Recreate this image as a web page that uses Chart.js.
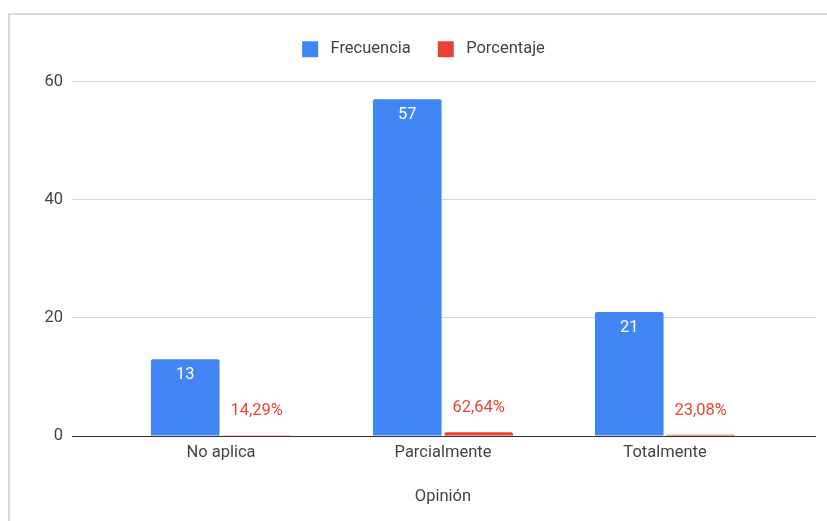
<!DOCTYPE html>
<html>
<head>
<meta charset="utf-8">
<script src="https://cdn.jsdelivr.net/npm/chart.js@4.4.1/dist/chart.umd.min.js"></script>
<style>
  html, body { margin: 0; padding: 0; background: #fff; }
  #frame { position: absolute; left: 8px; top: 13px; width: 900px; height: 600px;
           border-left: 2px solid #dadada; border-top: 2px solid #dadada; }
  #wrap { position: absolute; left: 0; top: 0; width: 827px; height: 521px; }
</style>
</head>
<body>
<div id="frame"></div>
<div id="wrap"><canvas id="c" width="827" height="521"></canvas></div>
<script>
// Categories and series
const categories = ['No aplica', 'Parcialmente', 'Totalmente'];
const frecuencia = [13, 57, 21];
const porcentaje = [0.1429, 0.6264, 0.2308];
const yTicks = [0, 20, 40, 60];

const BLUE = '#4285F4';
const RED = '#EA4335';
const TEXT = '#444444';
const FONT = 'Roboto, "Noto Sans", Arial, sans-serif';
const FS = 16.5;

Chart.defaults.font.family = FONT;
Chart.defaults.font.size = FS;
Chart.defaults.color = TEXT;

const fmtPct = v => (v * 100).toFixed(2).replace('.', ',') + '%';

// Value labels: white inside the top of the count bars, red above the share bars
const valueLabels = {
  id: 'valueLabels',
  afterDatasetsDraw(chart) {
    const ctx = chart.ctx;
    ctx.save();
    ctx.font = FS + 'px ' + FONT;
    ctx.textAlign = 'center';
    ctx.textBaseline = 'middle';
    chart.getDatasetMeta(0).data.forEach((bar, i) => {
      ctx.fillStyle = '#ffffff';
      ctx.fillText(String(frecuencia[i]), bar.x, bar.y + 16);
    });
    chart.getDatasetMeta(1).data.forEach((bar, i) => {
      ctx.fillStyle = RED;
      ctx.fillText(fmtPct(porcentaje[i]), bar.x, bar.y - 24);
    });
    ctx.restore();
  }
};

// Extra room under the legend
const legendSpace = {
  id: 'legendSpace',
  beforeInit(chart) {
    const fit = chart.legend.fit;
    chart.legend.fit = function () {
      fit.call(this);
      this.height += 14;
    };
  }
};

const gridColor = ctx => (ctx.tick && ctx.tick.value === 0) ? '#333333' : '#d6d6d6';

new Chart(document.getElementById('c'), {
  type: 'bar',
  data: {
    labels: categories,
    datasets: [
      { label: 'Frecuencia', data: frecuencia, backgroundColor: BLUE,
        borderRadius: { topLeft: 2, topRight: 2 }, borderSkipped: 'bottom',
        categoryPercentage: 0.644, barPercentage: 0.96 },
      { label: 'Porcentaje', data: porcentaje, backgroundColor: RED,
        borderRadius: { topLeft: 2, topRight: 2 }, borderSkipped: 'bottom',
        categoryPercentage: 0.644, barPercentage: 0.96 }
    ]
  },
  options: {
    responsive: false,
    animation: false,
    layout: { padding: { top: 14, left: 20, right: 0, bottom: 0 } },
    plugins: {
      tooltip: { enabled: false },
      legend: {
        position: 'top',
        labels: {
          boxWidth: 16, boxHeight: 16, padding: 27, color: TEXT,
          font: { size: FS },
          generateLabels(chart) {
            return Chart.defaults.plugins.legend.labels.generateLabels(chart)
              .map(item => Object.assign(item, { text: ' ' + item.text }));
          }
        }
      }
    },
    scales: {
      x: {
        grid: { display: false, drawTicks: false },
        border: { display: false },
        ticks: { padding: 7, color: TEXT, font: { size: FS } },
        title: { display: true, text: 'Opinión', color: TEXT,
                 font: { size: FS }, padding: { top: 0, bottom: 14 } },
        afterFit(scale) { scale.height = 85; }
      },
      y: {
        position: 'left',
        min: 0, max: 60,
        afterBuildTicks(scale) { scale.ticks = yTicks.map(v => ({ value: v })); },
        grid: { color: gridColor, tickColor: gridColor, tickLength: 38, lineWidth: 1 },
        border: { display: false },
        ticks: { padding: 9, color: TEXT, font: { size: FS } },
        afterFit(scale) { scale.width = 90; }
      },
      y2: {
        position: 'right',
        min: 0, max: 60,
        afterBuildTicks(scale) { scale.ticks = yTicks.map(v => ({ value: v })); },
        grid: { drawOnChartArea: false, color: gridColor, tickColor: gridColor, tickLength: 40 },
        border: { display: false },
        ticks: { display: false },
        afterFit(scale) { scale.width = 51; }
      }
    }
  },
  plugins: [valueLabels, legendSpace]
});
</script>
</body>
</html>
